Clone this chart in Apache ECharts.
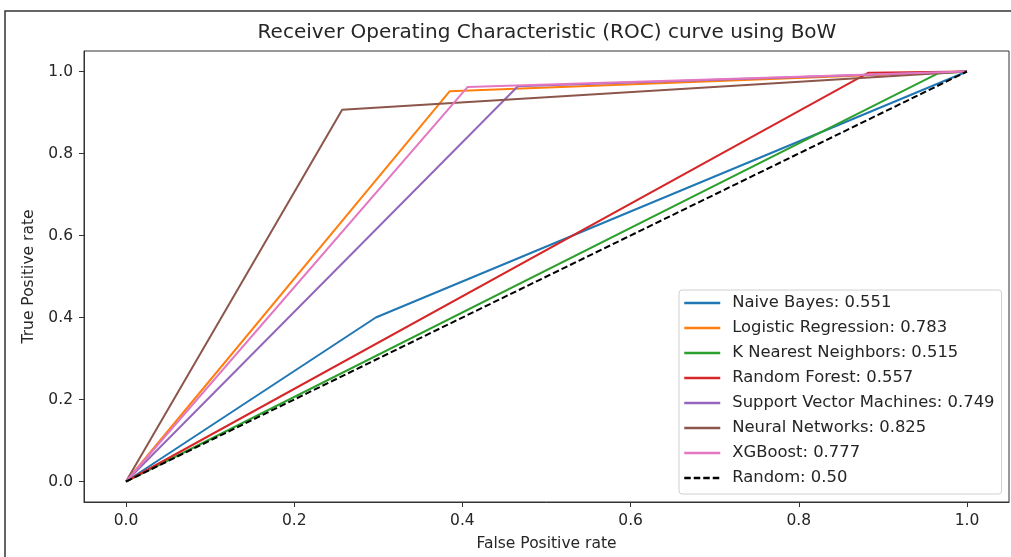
<!DOCTYPE html>
<html>
<head>
<meta charset="utf-8">
<title>ROC curve using BoW</title>
<script src="https://cdn.jsdelivr.net/npm/echarts@6/dist/echarts.min.js"></script>
<style>
  html, body { margin: 0; padding: 0; background: #fff; }
  #chart { width: 1011px; height: 557px; }
</style>
</head>
<body>
<div id="chart"></div>
<script>
// Model names and their AUC scores
const modelNames = ['Naive Bayes', 'Logistic Regression', 'K Nearest Neighbors', 'Random Forest',
  'Support Vector Machines', 'Neural Networks', 'XGBoost', 'Random'];
const aucScores = ['0.551', '0.783', '0.515', '0.557', '0.749', '0.825', '0.777', '0.50'];

// ROC points (false positive rate / true positive rate) per model
const fprNB = [0, 0.297, 1];
const tprNB = [0, 0.400, 1];
const fprLR = [0, 0.385, 1];
const tprLR = [0, 0.952, 1];
const fprKNN = [0, 0.965, 1];
const tprKNN = [0, 0.995, 1];
const fprRF = [0, 0.883, 1];
const tprRF = [0, 0.997, 1];
const fprSVM = [0, 0.466, 1];
const tprSVM = [0, 0.964, 1];
const fprNN = [0, 0.257, 1];
const tprNN = [0, 0.907, 1];
const fprXGB = [0, 0.406, 1];
const tprXGB = [0, 0.962, 1];
const fprRandom = [0, 1];
const tprRandom = [0, 1];

// Tick positions shared by both axes
const tickValues = [0, 0.2, 0.4, 0.6, 0.8, 1.0];

const rocFpr = [fprNB, fprLR, fprKNN, fprRF, fprSVM, fprNN, fprXGB, fprRandom];
const rocTpr = [tprNB, tprLR, tprKNN, tprRF, tprSVM, tprNN, tprXGB, tprRandom];
const lineColors = ['#1f77b4', '#ff7f0e', '#2ca02c', '#d62728', '#9467bd', '#8c564b', '#e377c2', '#000000'];

const font = 'DejaVu Sans';
const textColor = '#262626';

const series = modelNames.map((name, i) => ({
  name: name + ': ' + aucScores[i],
  type: 'line',
  symbol: 'none',
  animation: false,
  data: rocFpr[i].map((x, j) => [x, rocTpr[i][j]]),
  lineStyle: {
    color: lineColors[i],
    width: 2,
    type: name === 'Random' ? [6.5, 3] : 'solid'
  },
  itemStyle: { color: lineColors[i] },
  z: 2 + i
}));

const axisCommon = {
  type: 'value',
  min: -0.05,
  max: 1.05,
  axisLine: { show: true, onZero: false, lineStyle: { color: '#333', width: 1 } },
  axisTick: { show: true, length: 5, customValues: tickValues, lineStyle: { color: '#333' } },
  axisLabel: {
    customValues: tickValues,
    formatter: v => v.toFixed(1),
    fontFamily: font, fontSize: 15.5, color: textColor
  },
  splitLine: { show: false },
  nameLocation: 'middle',
  nameTextStyle: { fontFamily: font, fontSize: 15.5, color: textColor }
};

const chart = echarts.init(document.getElementById('chart'), null, { renderer: 'canvas' });
chart.setOption({
  animation: false,
  backgroundColor: '#fff',
  title: {
    text: 'Receiver Operating Characteristic (ROC) curve using BoW',
    left: 547,
    textAlign: 'center',
    top: 23,
    padding: 0,
    textStyle: { fontFamily: font, fontSize: 20, fontWeight: 'normal', color: textColor }
  },
  grid: {
    left: 84, right: 2, top: 51, bottom: 55,
    show: true, borderColor: '#333', borderWidth: 1, backgroundColor: 'transparent'
  },
  xAxis: Object.assign({}, axisCommon, {
    name: 'False Positive rate',
    nameGap: 34,
    axisLabel: Object.assign({}, axisCommon.axisLabel, { margin: 11 })
  }),
  yAxis: Object.assign({}, axisCommon, {
    name: 'True Positive rate',
    nameGap: 46,
    axisLabel: Object.assign({}, axisCommon.axisLabel, { margin: 11 })
  }),
  legend: {
    orient: 'vertical',
    left: 679,
    top: 290,
    padding: [5, 7, 8, 4],
    itemWidth: 36,
    itemHeight: 14,
    itemGap: 9,
    itemStyle: { opacity: 0 },
    lineStyle: { width: 2.5 },
    backgroundColor: 'rgba(255,255,255,0.85)',
    borderColor: '#d0d0d0',
    borderWidth: 1,
    borderRadius: 3,
    textStyle: { fontFamily: font, fontSize: 16.4, lineHeight: 16, color: textColor, padding: [0, 0, 0, 7] },
    data: series.map(s => s.name)
  },
  graphic: [{
    type: 'rect',
    shape: { x: 5, y: 11, width: 1030, height: 600 },
    style: { fill: 'none', stroke: '#333', lineWidth: 1.5 },
    silent: true,
    z: 100
  }],
  series: series
});
</script>
</body>
</html>
